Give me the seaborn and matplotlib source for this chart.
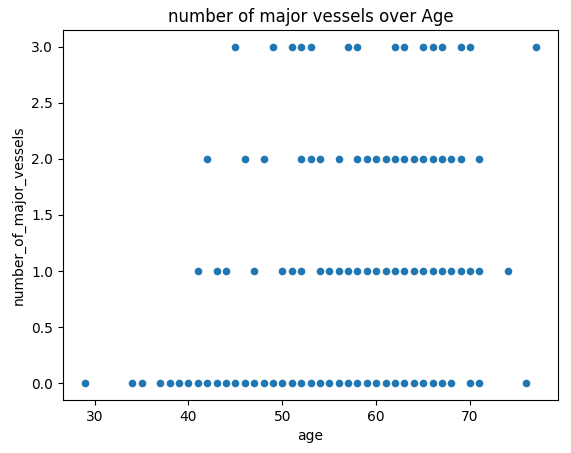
import pandas as pd
import seaborn as sns
import matplotlib.pyplot as plt

# ages observed at each number of major vessels
ages_0 = [29, 34, 35, 37, 38, 39, 40, 41, 42, 43, 44, 45, 46, 47, 48, 49, 50,
          51, 52, 53, 54, 55, 56, 57, 58, 59, 60, 61, 62, 63, 64, 65, 66, 67,
          68, 70, 71, 76]
ages_1 = [41, 43, 44, 47, 50, 51, 52, 54, 55, 56, 57, 58, 59, 60, 61, 62, 63,
          64, 65, 66, 67, 68, 69, 70, 71, 74]
ages_2 = [42, 46, 48, 52, 53, 54, 56, 58, 59, 60, 61, 62, 63, 64, 65, 66, 67,
          68, 69, 71]
ages_3 = [45, 49, 51, 52, 53, 57, 58, 62, 63, 65, 66, 67, 69, 70, 77]

vessels = [0.0, 1.0, 2.0, 3.0]
groups = [ages_0, ages_1, ages_2, ages_3]

df = pd.DataFrame({
    "age": [a for g in groups for a in g],
    "number_of_major_vessels": [v for v, g in zip(vessels, groups) for _ in g],
})

fig = plt.figure(figsize=(5.71, 4.53), dpi=100)
ax = fig.add_axes([0.1098, 0.117, 0.868, 0.8168])

sns.scatterplot(data=df, x="age", y="number_of_major_vessels", ax=ax,
                s=20, color="#1f77b4", edgecolor="#1f77b4", linewidth=1)

ax.set_title("number of major vessels over Age")
ax.set_xlabel("age")
ax.set_ylabel("number_of_major_vessels")

fig.savefig("out.png", dpi=100)
